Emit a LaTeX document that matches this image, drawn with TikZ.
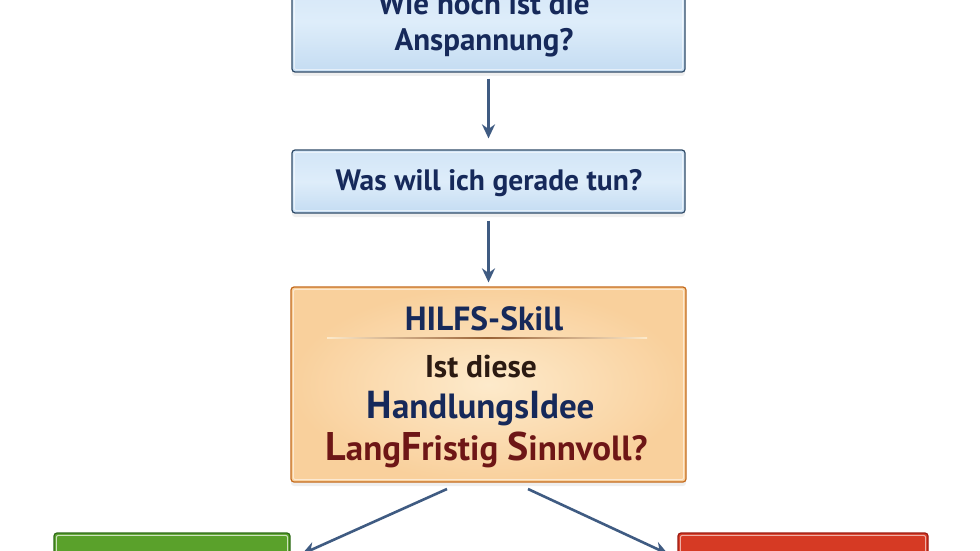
\documentclass[tikz,border=0pt]{standalone}
\usepackage{fontspec}
\setmainfont{PT Sans}
\usetikzlibrary{shadows,arrows.meta}
\definecolor{navy}{HTML}{16295A}
\definecolor{darkred}{HTML}{6E1616}
\definecolor{brownblack}{HTML}{2B1A12}
\definecolor{blueedge}{HTML}{2F4B68}
\definecolor{bluetop}{HTML}{D2E5F7}
\definecolor{bluemid}{HTML}{DEEDFA}
\definecolor{bluebot}{HTML}{C4DCF2}
\definecolor{orangeedge}{HTML}{C46A1C}
\definecolor{orangein}{HTML}{FDEACB}
\definecolor{orangeout}{HTML}{F9D09C}
\definecolor{greenedge}{HTML}{2E6B18}
\definecolor{greenfill}{HTML}{5AA12B}
\definecolor{rededge}{HTML}{9C1B12}
\definecolor{redfill}{HTML}{D63A24}
\definecolor{arrowcol}{HTML}{3F5B82}
\definecolor{sepcol}{HTML}{9A6336}
\tikzset{
  boxbase/.style={rectangle, rounded corners=3pt, line width=1.2pt, inner sep=0pt,
    drop shadow={opacity=0.12, shadow xshift=0pt, shadow yshift=-4pt}},
  bluebox/.style={boxbase, draw=blueedge, top color=bluetop, bottom color=bluebot, middle color=bluemid},
  orangebox/.style={boxbase, draw=orangeedge, inner color=orangein, outer color=orangeout},
  greenbox/.style={boxbase, draw=greenedge, fill=greenfill},
  redbox/.style={boxbase, draw=rededge, fill=redfill},
  innerline/.style={white, opacity=0.55, line width=1pt, rounded corners=2pt},
  txt/.style={inner sep=0pt, anchor=base, font=\bfseries},
  arr/.style={draw=arrowcol, line width=2.6pt, -{Stealth[length=14pt,width=13pt]}}
}
\begin{document}
\begin{tikzpicture}[x=1pt,y=-1pt]
\clip (0,0) rectangle (980,551);
\fill[white] (0,0) rectangle (980,551);

% boxes
\node[bluebox, minimum width=393pt, minimum height=100pt] (q1) at (488.5,22) {};
\node[bluebox, minimum width=393pt, minimum height=63pt] (q2) at (488.5,181.5) {};
\node[orangebox, minimum width=395pt, minimum height=195pt] (q3) at (488.5,384.5) {};
\node[greenbox, minimum width=236pt, minimum height=70pt] (yes) at (172,568) {};
\node[redbox, minimum width=250pt, minimum height=70pt] (no) at (803,568) {};

% inner light borders
\draw[innerline] ([shift={(3,3)}]q1.north west) rectangle ([shift={(-3,-3)}]q1.south east);
\draw[innerline] ([shift={(3,3)}]q2.north west) rectangle ([shift={(-3,-3)}]q2.south east);
\draw[innerline] ([shift={(3,3)}]q3.north west) rectangle ([shift={(-3,-3)}]q3.south east);
\draw[innerline, opacity=0.7] ([shift={(3,3)}]yes.north west) rectangle ([shift={(-3,-3)}]yes.south east);
\draw[innerline, opacity=0.6] ([shift={(3,3)}]no.north west) rectangle ([shift={(-3,-3)}]no.south east);

% texts
\node[txt, text=navy, font=\bfseries\fontsize{31}{36}\selectfont] (t1a) at (484,15) {Wie hoch ist die};
\node[txt, text=navy, font=\bfseries\fontsize{31}{36}\selectfont] (t1b) at (484,51) {Anspannung?};
\node[txt, text=navy, font=\bfseries\fontsize{29.5}{34}\selectfont] (t2) at (489,190) {Was will ich gerade tun?};

\node[txt, text=navy, font=\bfseries\fontsize{33.5}{40}\selectfont] (t3a) at (484,330) {HILFS-Skill};
\shade[left color=orangein, right color=orangein, middle color=sepcol] (327,337.4) rectangle (647,338.9);
\node[txt, text=brownblack, font=\bfseries\fontsize{31.5}{36}\selectfont] (t3b) at (481,377) {Ist diese};
\node[txt, text=navy, font=\bfseries\fontsize{35}{40}\selectfont] (t3c) at (480.5,418)
  {{\fontsize{39}{40}\selectfont H}andlungs{\fontsize{39}{40}\selectfont I}dee};
\node[txt, text=darkred, font=\bfseries\fontsize{35}{40}\selectfont] (t3d) at (486.5,460)
  {{\fontsize{40}{40}\selectfont L}ang{\fontsize{40}{40}\selectfont F}ristig {\fontsize{40}{40}\selectfont S}innvoll?};

% connectors
\coordinate (l1) at (447,489);
\coordinate (l2) at (302,554);
\coordinate (r1) at (528,489);
\coordinate (r2) at (668,554);
\draw[arr, shorten <=6pt, shorten >=11pt] (q1.south) -- (q2.north);
\draw[arr, shorten <=7pt, shorten >=4pt] (q2.south) -- (q3.north);
\draw[arr] (l1) -- (l2);
\draw[arr] (r1) -- (r2);
\end{tikzpicture}
\end{document}
